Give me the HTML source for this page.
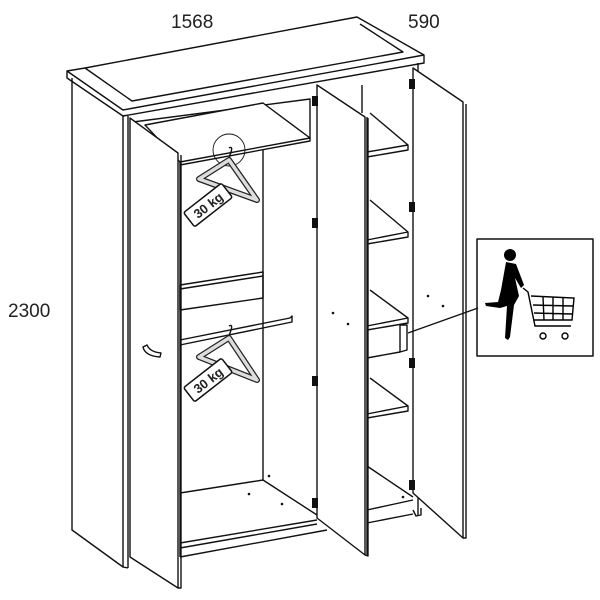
<!DOCTYPE html>
<html><head><meta charset="utf-8"><style>
html,body{margin:0;padding:0;background:#fff;}
svg{display:block}
text{font-family:"Liberation Sans",sans-serif;fill:#222}
</style></head><body>
<svg width="600" height="600" viewBox="0 0 600 600" xmlns="http://www.w3.org/2000/svg">
<g fill="none" stroke="#111" stroke-width="1.4" stroke-linejoin="round">
<!-- top slab -->
<path d="M67 71 L85 68 L357 17 L424 55 L424 63 L123 116 L67 78 Z" fill="#fff"/>
<path d="M67 71 L123 110 L424 55"/>
<path d="M85 68 L132 101 L403 52 L360 24"/>
<!-- left side -->
<path d="M72 78 L72 530 L123 567 L123 115"/>
<path d="M128 116 L128 568 M123 567 L128 568"/>
<path d="M418 63 L418 515"/>
<!-- interior back -->
<path d="M180 162 L180 557"/>
<path d="M263 150 L263 480"/>
<path d="M133 122 L310 99 L310 138"/>
<!-- top shelf -->
<path d="M145 125 L263 103 L310 138 L180 162 Z" fill="#fff"/>
<path d="M180 165 L310 141 L310 138"/>
<!-- divider panel -->
<path d="M180 285 L263 272 L263 298 L180 310 Z"/>
<path d="M180 289 L263 276"/>
<!-- rod -->
<path d="M180 340 L290 318 M180 345 L292 322 L292 316 L290 318"/>
<!-- floor -->
<path d="M180 493 L263 480 L317 515"/>
<path d="M180 543 L317 520 M180 548 L317 524 M180 557 L327 530"/>
<!-- left door -->
<path d="M130 118 L178 153 L178 588 L130 557 Z" fill="#fff"/>
<path d="M181 155 L181 588 L178 588"/>
<path d="M143 347 Q145 356 160 357 L161 353 Q150 352 147 345 Z"/>
<!-- middle partition / right compartment -->
<path d="M362 85 L362 113 M367 117 L367 555"/>
<path d="M370 113 L408 145 L408 150 L367 157"/>
<path d="M367 152 L408 145"/>
<path d="M370 200 L408 232 L408 237 L367 244 M367 240 L408 232"/>
<path d="M370 290 L408 318 L408 323 L367 330 M367 326 L408 318"/>
<path d="M400 325 L407 325 L407 350 L400 352 Z"/>
<path d="M367 358 L400 352"/>
<path d="M370 378 L408 406 L408 411 L367 418 M367 414 L408 406"/>
<path d="M367 466 L413 497 M367 510 L413 500 M367 523 L413 514"/>
<path d="M413 510 L416 516 L421 515 L421 508"/>
<!-- middle door -->
<path d="M317 85 L365 117 L365 555 L317 518 Z" fill="#fff"/>
<path d="M368 118 L368 556 L365 555"/>
<!-- right door -->
<path d="M413 68 L463 102 L463 538 L413 493 Z" fill="#fff"/>
<path d="M466 104 L466 538 L463 538"/>
<!-- leader line + box -->
<path d="M408 333 L478 308"/>
<rect x="477" y="239" width="116" height="117" stroke-width="1.5"/>
<!-- hangers -->
<circle cx="229" cy="150" r="16" stroke-width="0.9"/>
<path d="M229 148 Q233 146 231 152 L229 158"/>
<path d="M229 326 Q233 324 231 330 L229 336"/>
</g>
<g fill="none" stroke="#333" stroke-width="5" stroke-linejoin="round">
<path d="M229 160 L199 179 L257 200 Z" stroke="#222" stroke-width="6"/>
<path d="M229 160 L199 179 L257 200 Z" stroke="#ddd" stroke-width="3.5"/>
<path d="M229 338 L199 357 L257 380 Z" stroke="#222" stroke-width="6"/>
<path d="M229 338 L199 357 L257 380 Z" stroke="#ddd" stroke-width="3.5"/>
</g>
<!-- hinges -->
<g fill="#111">
<rect x="312" y="96" width="6" height="10"/><rect x="312" y="218" width="6" height="10"/>
<rect x="312" y="376" width="6" height="10"/><rect x="312" y="498" width="6" height="10"/>
<rect x="409" y="79" width="6" height="10"/><rect x="409" y="202" width="6" height="10"/>
<rect x="409" y="358" width="6" height="10"/><rect x="409" y="480" width="6" height="10"/>
<circle cx="333" cy="313" r="1.3"/><circle cx="348" cy="324" r="1.3"/>
<circle cx="428" cy="296" r="1.3"/><circle cx="443" cy="306" r="1.3"/>
<circle cx="269" cy="476" r="1.3"/><circle cx="249" cy="494" r="1.3"/><circle cx="282" cy="504" r="1.3"/>
<circle cx="403" cy="497" r="1.3"/>
</g>
<!-- 30 kg tags -->
<g transform="translate(208,205) rotate(-38)">
<rect x="-24" y="-9" width="48" height="18" fill="#fff" stroke="#111" stroke-width="1.5" rx="2"/>
<text x="0" y="5" font-size="13" font-weight="bold" text-anchor="middle">30 kg</text></g>
<g transform="translate(208,380) rotate(-38)">
<rect x="-24" y="-9" width="48" height="18" fill="#fff" stroke="#111" stroke-width="1.5" rx="2"/>
<text x="0" y="5" font-size="13" font-weight="bold" text-anchor="middle">30 kg</text></g>
<!-- woman + cart -->
<g fill="#000">
<circle cx="510" cy="255" r="6"/>
<path d="M506 262 L516 264 L524 285 L521 288 L515 278 L519 296 L514 305 L510 337 L508 340 L505 338 L507 306 L500 308 L486 306 L485 303 L498 302 L501 290 Z"/>
</g>
<g fill="none" stroke="#000" stroke-width="1.4">
<path d="M523 288 L528 292 L535 326 L571 326 M531 296 L574 298 L572 320 L534 320"/>
<path d="M533 305 L573 306 M534 313 L572 314 M543 297 L544 320 M553 297 L553 320 M563 298 L563 320"/>
<circle cx="543" cy="336" r="3"/><circle cx="565" cy="336" r="3"/>
</g>
<!-- dimensions -->
<text x="171" y="28" font-size="19">1568</text>
<text x="408" y="28" font-size="19">590</text>
<text x="8" y="317" font-size="19">2300</text>
</svg>
</body></html>
